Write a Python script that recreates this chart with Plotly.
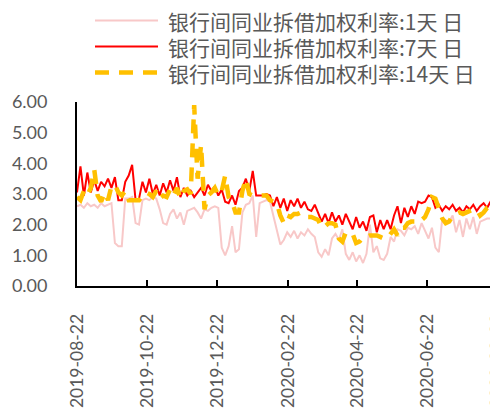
import pandas as pd
import plotly.graph_objects as go

# ---------------- data (every 3rd day) ----------------
start_date = "2019-08-22"
n_points = 123
dates = pd.date_range(start_date, periods=n_points, freq="3D")

rate_1d = [
    2.60, 2.65, 2.55, 2.70, 2.60, 2.65, 2.55, 2.70, 2.60, 2.65,
    2.70, 1.40, 1.30, 1.30, 2.85, 2.85, 2.90, 2.05, 2.00, 2.80,
    2.85, 2.80, 2.90, 2.85, 2.50, 2.05, 2.00, 2.35, 2.50, 2.20,
    2.40, 2.00, 2.45, 2.50, 2.55, 2.40, 2.20, 2.50, 2.45, 2.55,
    2.60, 2.55, 1.25, 1.00, 1.30, 1.95, 1.10, 1.20, 2.40, 2.65,
    2.70, 2.95, 1.60, 2.70, 2.75, 2.80, 2.75, 2.30, 1.80, 1.35,
    1.50, 1.75, 1.60, 1.80, 1.55, 1.75, 1.65, 1.85, 1.70, 1.60,
    1.10, 0.95, 1.20, 1.00, 1.55, 1.70, 1.50, 1.85, 1.05, 0.85,
    1.10, 0.80, 1.00, 0.75, 1.05, 2.00, 1.10, 1.30, 0.90, 0.85,
    1.05, 1.60, 1.45, 1.85, 1.80, 1.65, 1.90, 1.85, 1.95, 1.70,
    2.05, 1.80, 1.55, 1.90, 1.25, 1.10, 2.20, 2.15, 2.10, 2.30,
    1.75, 2.15, 1.60, 2.20, 1.85, 2.25, 1.70, 2.10, 2.15, 2.20,
    2.20, 2.25, 2.20,
]

rate_7d = [
    3.05, 3.90, 2.95, 3.70, 3.05, 3.45, 3.10, 3.40, 3.25, 3.50,
    3.20, 3.55, 2.80, 2.80, 3.40, 3.60, 3.95, 2.80, 2.85, 3.40,
    3.05, 3.50, 3.00, 3.30, 2.95, 3.35, 3.05, 3.45, 3.10, 3.55,
    2.90, 3.20, 2.95, 3.10, 2.90, 3.05, 3.20, 2.95, 3.30, 3.10,
    3.25, 2.95, 3.15, 2.75, 2.70, 2.95, 2.65, 3.10, 3.20, 3.50,
    3.10, 3.75, 2.95, 2.95, 2.95, 3.00, 2.95, 2.60, 2.90, 2.55,
    2.85, 2.45, 2.80, 2.60, 2.85, 2.55, 2.75, 2.50, 2.45, 2.65,
    2.35, 2.10, 2.35, 2.05, 2.40, 2.10, 2.30, 2.00, 2.35, 2.10,
    1.85, 2.25, 1.90, 2.10, 1.80, 2.25, 2.30, 1.75, 2.15, 1.85,
    2.15, 1.85, 2.30, 2.60, 2.05, 2.55, 2.25, 2.60, 2.35, 2.75,
    2.70, 2.75, 2.95, 2.90, 2.55, 2.65, 2.45, 2.60, 2.50, 2.65,
    2.45, 2.55, 2.40, 2.60, 2.50, 2.65, 2.45, 2.60, 2.70, 2.55,
    2.75, 2.65, 2.80,
]

rate_14d = [
    2.90, 2.80, 3.10, 2.95, 3.20, 3.80, 2.95, 2.75, 3.05, 2.80,
    3.25, 3.30, 3.05, 2.95, 3.10, 2.80, 2.80, 2.80, 2.80, 2.95,
    3.05, 3.00, 2.90, 3.10, 2.85, 2.95, 2.90, 3.15, 2.95, 3.20,
    2.85, 3.10, 3.15, 3.00, 5.90, 3.50, 4.60, 2.50, 2.95, 3.05,
    3.20, 2.95, 3.10, 3.60, 2.90, 2.75, 2.40, 2.40, 3.10, 3.50,
    3.00, 2.95, 2.95, 2.95, 2.95, 2.95, 2.80, 2.75, 2.70, 2.30,
    2.05, 2.30, 2.25, 2.35, 2.35, 2.40, 2.30, 2.25, 2.25, 2.20,
    2.15, 1.90, 1.95, 2.05, 2.05, 2.00, 1.55, 1.45, 1.75, 1.70,
    1.70, 1.40, 1.45, 1.60, 1.60, 1.65, 1.65, 1.65, 1.60, 1.55,
    1.55, 1.70, 1.85, 1.65, 1.90, 1.90, 2.05, 2.10, 2.10, 2.05,
    2.15, 2.25, 2.50, 2.90, 2.85, 2.50, 2.20, 2.05, 2.10, 2.30,
    2.35, 2.40, 2.35, 2.40, 2.45, 2.50, 2.50, 2.30, 2.40, 2.55,
    2.60, 2.55, 2.55,
]

series_names = [
    "银行间同业拆借加权利率:1天 日",
    "银行间同业拆借加权利率:7天 日",
    "银行间同业拆借加权利率:14天 日",
]

x_tick_labels = ["2019-08-22", "2019-10-22", "2019-12-22", "2020-02-22",
                 "2020-04-22", "2020-06-22", "2020-08-22"]
y_tick_values = [0, 1, 2, 3, 4, 5, 6]

# ---------------- styling ----------------
colors = ["#F8C8C8", "#FF0000", "#FFC000"]
widths = [2, 2, 4.5]
dashes = ["solid", "solid", "14px,10px"]
text_color = "#595959"
latin_font = "Lato, Noto Sans CJK SC, sans-serif"

# the page body has an 8px margin, so the figure is laid out 8px in from the window edge
OFF = 8
W, H = 498 - OFF, 412 - OFF
ML, MR, MT, MB = 77 - OFF, 0, 102 - OFF, 126
plot_w = W - ML - MR
plot_h = H - MT - MB

fig = go.Figure()
for name, vals, c, w, d in zip(series_names, [rate_1d, rate_7d, rate_14d], colors, widths, dashes):
    fig.add_trace(go.Scatter(
        x=dates, y=vals, mode="lines", name=name,
        line=dict(color=c, width=w, dash=d),
        showlegend=False, hoverinfo="skip",
    ))

# manual legend (lines + text) laid out above the plot like the reference
legend_rows_px = [20.5, 46.5, 72.5]  # window pixels
for name, c, w, d, py in zip(series_names, colors, widths, dashes, legend_rows_px):
    yp = (H - MB - (py - OFF)) / plot_h
    fig.add_shape(type="line", xref="paper", yref="paper",
                  x0=(95 - OFF - ML) / plot_w, x1=(158 - OFF - ML) / plot_w, y0=yp, y1=yp,
                  line=dict(color=c, width=w, dash=d))
    fig.add_annotation(xref="paper", yref="paper", x=(167 - OFF - ML) / plot_w, y=yp,
                       xanchor="left", yanchor="middle", showarrow=False,
                       borderpad=0,
                       text=name, font=dict(family="Noto Sans CJK SC", size=21, color=text_color))

fig.update_layout(
    width=W, height=H,
    margin=dict(l=ML, r=MR, t=MT, b=MB, pad=0, autoexpand=False),
    paper_bgcolor="white", plot_bgcolor="white",
    font=dict(family=latin_font, size=18, color=text_color),
    showlegend=False,
)
fig.update_xaxes(
    type="date", automargin=False,
    range=["2019-08-22", "2020-08-22 12:00"],
    tickvals=x_tick_labels, ticktext=x_tick_labels,
    tickangle=-90,
    ticks="inside", ticklen=6, tickwidth=1.5, tickcolor="black",
    showline=True, linecolor="black", linewidth=1.8,
    showgrid=False, zeroline=False,
    ticklabelstandoff=19,
    ticklabeloverflow="allow",
    tickfont=dict(family=latin_font, size=17.5, color=text_color),
)
fig.update_yaxes(
    range=[0, 6], automargin=False,
    tickvals=y_tick_values, tickformat=".2f",
    ticks="", showline=True, linecolor="black", linewidth=1.8,
    showgrid=False, zeroline=False,
    ticklabelstandoff=24,
    tickfont=dict(family=latin_font, size=18, color=text_color),
)

fig.write_html("out.html")
